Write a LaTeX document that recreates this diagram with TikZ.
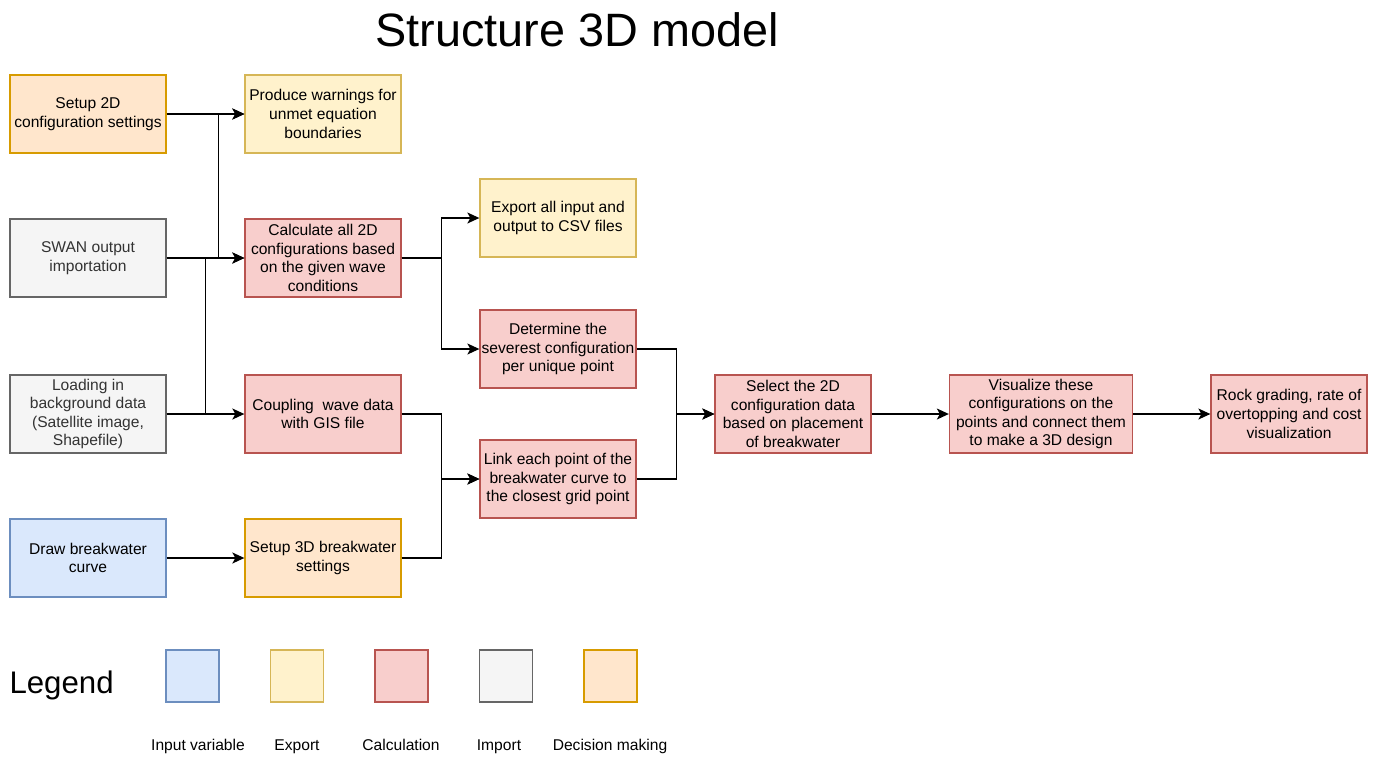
\documentclass[tikz,border=0pt]{standalone}
\usepackage{fontspec}
\setmainfont{Liberation Sans}
\usepackage{xcolor}
\usepackage{tikz}
\usetikzlibrary{shapes,arrows.meta,positioning}
\definecolor{inputfill}{HTML}{DAE8FC}
\definecolor{inputdraw}{HTML}{6C8EBF}
\definecolor{exportfill}{HTML}{FFF2CC}
\definecolor{exportdraw}{HTML}{D6B656}
\definecolor{calcfill}{HTML}{F8CECC}
\definecolor{calcdraw}{HTML}{B85450}
\definecolor{importfill}{HTML}{F5F5F5}
\definecolor{importdraw}{HTML}{666666}
\definecolor{importtext}{HTML}{333333}
\definecolor{decisionfill}{HTML}{FFE6CC}
\definecolor{decisiondraw}{HTML}{D79B00}
\tikzset{
    box/.style = {rectangle, minimum width=156pt, minimum height=78pt, inner sep=1pt, align=center, line width=1.3pt, font=\fontsize{15.6}{18.6}\selectfont},
    inputvar/.style = {box, draw=inputdraw, fill=inputfill},
    exportbox/.style = {box, draw=exportdraw, fill=exportfill},
    calcbox/.style = {box, draw=calcdraw, fill=calcfill},
    importbox/.style = {box, draw=importdraw, fill=importfill, text=importtext},
    decisionbox/.style = {box, draw=decisiondraw, fill=decisionfill},
    legendbox/.style = {rectangle, minimum width=53pt, minimum height=52pt, line width=1.3pt},
    legendlabel/.style = {anchor=base, font=\fontsize{15.6}{18.6}\selectfont},
    connector/.style = {line width=1.3pt, -{Stealth[length=12pt, width=11pt, inset=3pt]}}
}

\begin{document}
\begin{tikzpicture}[x=1pt, y=-1pt, on grid]
    \useasboundingbox (0,0) rectangle (1376,756);

    % Title
    \node [anchor=base, font=\fontsize{46.8}{56}\selectfont] (title) at (577,46) {Structure 3D model};

    % Nodes
    \node [decisionbox] (setup2d) at (88,114) {Setup 2D\\configuration settings};
    \node [importbox, below=144pt of setup2d] (swan) {SWAN output\\importation};
    \node [importbox, below=156pt of swan] (load) {Loading in\\background data\\(Satellite image,\\Shapefile)};
    \node [inputvar, below=144pt of load] (drawcurve) {Draw breakwater\\curve};
    \node [exportbox, right=235pt of setup2d] (warnings) {Produce warnings for\\unmet equation\\boundaries};
    \node [calcbox, right=235pt of swan] (calc2d) {Calculate all 2D\\configurations based\\on the given wave\\conditions};
    \node [calcbox, right=235pt of load] (coupling) {Coupling\ \ wave data\\with GIS file};
    \node [decisionbox, right=235pt of drawcurve] (setup3d) {Setup 3D breakwater\\settings};
    \node [exportbox, right=235pt of calc2d, yshift=40pt] (export) {Export all input and\\output to CSV files};
    \node [calcbox, right=235pt of calc2d, yshift=-91pt] (severest) {Determine the\\severest configuration\\per unique point};
    \node [calcbox, right=235pt of coupling, yshift=-65pt] (link) {Link each point of the\\breakwater curve to\\the closest grid point};
    \node [calcbox, right=470pt of coupling] (select) {Select the 2D\\configuration data\\based on placement\\of breakwater};
    \node [calcbox, minimum width=183pt, right=248pt of select] (visual) {Visualize these\\configurations on the\\points and connect them\\to make a 3D design};
    \node [calcbox, right=248pt of visual] (rock) {Rock grading, rate of\\overtopping and cost\\visualization};

    % Arrows
    \draw [connector] (setup2d) -- (warnings);
    \draw [connector] (swan.east) -- ++(52,0) |- (warnings.west);
    \draw [connector] (swan) -- (calc2d);
    \draw [connector] (load.east) -- ++(39,0) |- (calc2d.west);
    \draw [connector] (load) -- (coupling);
    \draw [connector] (drawcurve) -- (setup3d);
    \draw [connector] (calc2d.east) -- ++(40,0) |- (export.west);
    \draw [connector] (calc2d.east) -- ++(40,0) |- (severest.west);
    \draw [connector] (coupling.east) -- ++(40,0) |- (link.west);
    \draw [connector] (setup3d.east) -- ++(40,0) |- (link.west);
    \draw [connector] (severest.east) -- ++(40,0) |- (select.west);
    \draw [connector] (link.east) -- ++(40,0) |- (select.west);
    \draw [connector] (select) -- (visual);
    \draw [connector] (visual) -- (rock);

    % Legend
    \node [anchor=base west, font=\fontsize{31.2}{37}\selectfont] (legend) at (6,693) {Legend};
    \node [legendbox, draw=inputdraw, fill=inputfill] (leginput) at (192.5,676) {};
    \node [legendbox, draw=exportdraw, fill=exportfill] (legexport) at (297,676) {};
    \node [legendbox, draw=calcdraw, fill=calcfill] (legcalc) at (401.5,676) {};
    \node [legendbox, draw=importdraw, fill=importfill] (legimport) at (506,676) {};
    \node [legendbox, draw=decisiondraw, fill=decisionfill] (legdecision) at (610.5,676) {};
    \node [legendlabel] (labinput) at (198,750) {Input variable};
    \node [legendlabel] (labexport) at (297,750) {Export};
    \node [legendlabel] (labcalc) at (401,750) {Calculation};
    \node [legendlabel] (labimport) at (499,750) {Import};
    \node [legendlabel] (labdecision) at (610,750) {Decision making};
\end{tikzpicture}
\end{document}
